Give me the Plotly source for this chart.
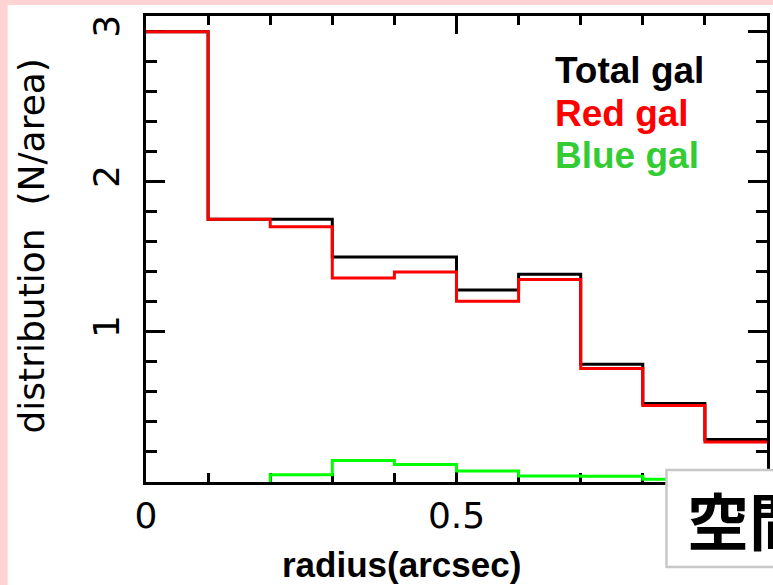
import plotly.graph_objects as go

# ---- data ----
bin_edges = [0.0, 0.1, 0.2, 0.3, 0.4, 0.5, 0.6, 0.7, 0.8, 0.9, 1.0]
total_gal = [3.0, 1.75, 1.75, 1.50, 1.50, 1.28, 1.385, 0.785, 0.523, 0.283]
red_gal = [3.0, 1.75, 1.70, 1.36, 1.40, 1.205, 1.35, 0.756, 0.509, 0.267]
blue_gal = [None, None, 0.049, 0.143, 0.116, 0.073, 0.040, 0.038, 0.018, 0.010]
legend_labels = ["Total gal", "Red gal", "Blue gal"]
x_title = "radius(arcsec)"
y_title = "distribution\u00a0\u00a0(N/area)"
box_text = "空間"


def steps(edges, vals):
    xs, ys = [], []
    started = False
    for i, v in enumerate(vals):
        if v is None:
            continue
        if not started and edges[i] > 0:
            xs.append(edges[i]); ys.append(0)
        started = True
        xs += [edges[i], edges[i + 1]]
        ys += [v, v]
    return xs, ys


# plot area in pixels
L, R, T, B = 146, 770, 16, 482
W, H = 773, 585


def px_x(p):
    return (p - L) / (R - L)


def px_y(p):
    return (B - p) / (B - T)


fig = go.Figure()
for vals, col in [(total_gal, "#000000"), (red_gal, "#FF0000"), (blue_gal, "#00FF00")]:
    xs, ys = steps(bin_edges, vals)
    fig.add_trace(go.Scatter(x=xs, y=ys, mode="lines",
                             line=dict(color=col, width=3), showlegend=False,
                             hoverinfo="skip", cliponaxis=True))

tick_font = dict(family="DejaVu Sans", size=36, color="#000")
fig.update_xaxes(range=[0, 1], showgrid=False, zeroline=False, layer="below traces",
                 showline=True, linecolor="#000", linewidth=3, mirror="ticks",
                 ticks="inside", ticklen=18, tickwidth=2.5, tickcolor="#000",
                 tickvals=[0, 0.5], ticktext=["0", "0.5"], tickfont=tick_font,
                 minor=dict(ticks="inside", ticklen=9, tickwidth=2.5, tickcolor="#000",
                            dtick=0.1, tick0=0, showgrid=False))
fig.update_yaxes(range=[0, 3.105], showgrid=False, zeroline=False, layer="below traces",
                 showline=True, linecolor="#000", linewidth=3, mirror="ticks",
                 ticks="inside", ticklen=19, tickwidth=2.5, tickcolor="#000",
                 tickvals=[1, 2, 3], ticktext=["1", "2", "3"], tickfont=tick_font,
                 tickangle=-90, ticklabelstandoff=10,
                 minor=dict(ticks="inside", ticklen=11, tickwidth=2.5, tickcolor="#000",
                            dtick=0.2, tick0=0, showgrid=False))

shapes = [
    dict(type="rect", xref="paper", yref="paper", layer="below",
         x0=px_x(7), x1=px_x(1000), y0=px_y(800), y1=px_y(5),
         fillcolor="#FFFFFF", line=dict(width=0)),
    dict(type="rect", xref="paper", yref="paper", layer="above",
         x0=px_x(669), x1=px_x(900), y0=px_y(567), y1=px_y(470),
         fillcolor="#FFFFFF", line=dict(color="#C8C8C8", width=2.5)),
]

annotations = []
leg_cols = ["#000000", "#FF0000", "#33CC33"]
leg_y = [70, 113, 156]
for lab, c, yy in zip(legend_labels, leg_cols, leg_y):
    annotations.append(dict(text=lab, xref="paper", yref="paper", x=px_x(555), y=px_y(yy),
                            xanchor="left", yanchor="middle", showarrow=False,
                            font=dict(family="Liberation Sans", size=37, color=c, weight="bold")))
annotations.append(dict(text=x_title, xref="paper", yref="paper", x=px_x(403), y=px_y(564),
                        xanchor="center", yanchor="middle", showarrow=False,
                        font=dict(family="Liberation Sans, Noto Sans CJK JP", size=35,
                                  color="#000", weight="bold")))
annotations.append(dict(text=y_title, xref="paper", yref="paper", x=px_x(30), y=px_y(246),
                        xanchor="center", yanchor="middle", showarrow=False, textangle=-90,
                        font=dict(family="DejaVu Sans", size=36, color="#000")))
annotations.append(dict(text=box_text, xref="paper", yref="paper", x=px_x(688), y=px_y(519),
                        xanchor="left", yanchor="middle", showarrow=False,
                        font=dict(family="Noto Sans CJK JP", size=62, color="#000", weight="bold")))

fig.update_layout(width=W, height=H, margin=dict(l=L, r=W - R, t=T, b=H - B),
                  paper_bgcolor="#FFD3D3", plot_bgcolor="#FFFFFF",
                  shapes=shapes, annotations=annotations)

fig.write_html("out.html")
